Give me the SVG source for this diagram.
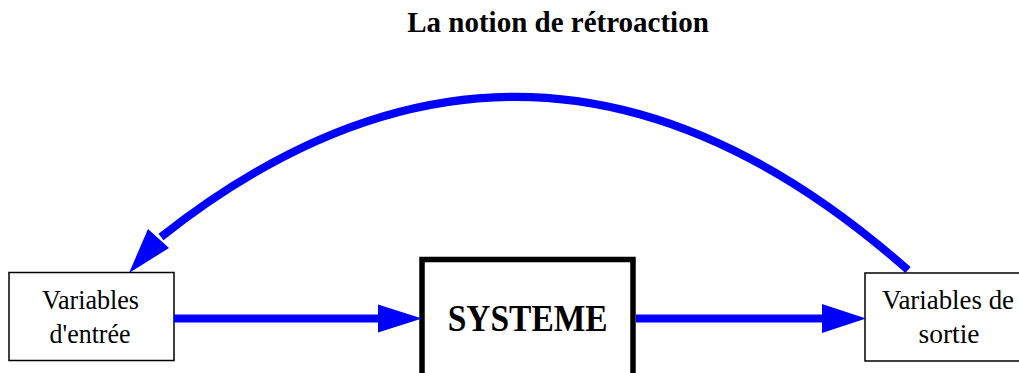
<svg xmlns="http://www.w3.org/2000/svg" width="1019" height="373" viewBox="0 0 1019 373">
<style>
.t{font-family:"Liberation Serif","Times New Roman",serif;fill:#000}
.box{fill:#fff;stroke:#000;stroke-width:1.5}
.edge{fill:none;stroke:#0000ff;stroke-width:8}
.head{fill:#0000ff;stroke:none}
</style>
<rect width="1019" height="373" fill="#fff"/>
<text class="t" x="558" y="31.5" font-size="29" font-weight="bold" text-anchor="middle">La notion de rétroaction</text>
<g id="entree">
<rect class="box" x="9" y="272.5" width="165" height="88"/>
<text class="t" x="90.5" y="309.3" font-size="27" text-anchor="middle" textLength="97" lengthAdjust="spacingAndGlyphs">Variables</text>
<text class="t" x="90" y="343.3" font-size="27" text-anchor="middle" textLength="81" lengthAdjust="spacingAndGlyphs">d'entrée</text>
</g>
<g id="systeme">
<rect x="422" y="259.5" width="211" height="125" fill="#fff" stroke="#000" stroke-width="5.5"/>
<text class="t" x="527.7" y="331" font-size="37" font-weight="bold" text-anchor="middle" textLength="160" lengthAdjust="spacingAndGlyphs">SYSTEME</text>
</g>
<g id="sortie">
<rect class="box" x="865" y="273" width="170" height="88"/>
<text class="t" x="948" y="309.3" font-size="27" text-anchor="middle" textLength="132" lengthAdjust="spacingAndGlyphs">Variables de</text>
<text class="t" x="949" y="343.3" font-size="27" text-anchor="middle" textLength="61" lengthAdjust="spacingAndGlyphs">sortie</text>
</g>
<g id="connectors">
<line class="edge" x1="174" y1="318.5" x2="380" y2="318.5"/>
<polygon class="head" points="378,304.5 422,318.5 378,332.5"/>
<line class="edge" x1="636" y1="318.5" x2="824" y2="318.5"/>
<polygon class="head" points="822,304 866,318.5 822,333"/>
<path class="edge" stroke-width="7" d="M908,270 Q535.5,-59 161,237"/>
<polygon class="head" points="129,273 148,229 169,248"/>
</g>
</svg>
